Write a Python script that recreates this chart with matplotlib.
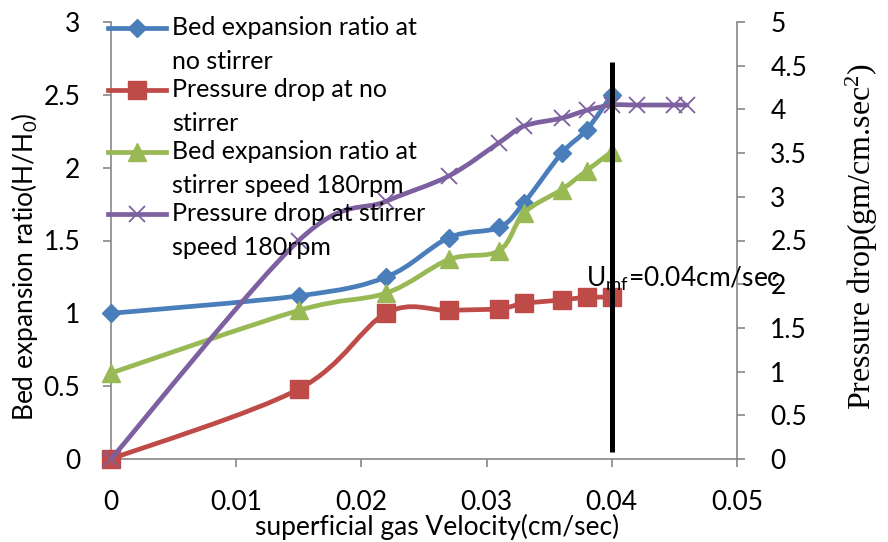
import matplotlib
matplotlib.use('Agg')
import numpy as np
import matplotlib.pyplot as plt
from matplotlib.path import Path
from matplotlib.patches import PathPatch
from matplotlib.lines import Line2D
from matplotlib.legend_handler import HandlerLine2D

# ---- data ----
velocity = [0, 0.015, 0.022, 0.027, 0.031, 0.033, 0.036, 0.038, 0.040]
bed_no_stirrer = [1.0, 1.12, 1.25, 1.52, 1.59, 1.76, 2.10, 2.26, 2.50]
bed_stirrer = [0.59, 1.02, 1.14, 1.37, 1.43, 1.69, 1.85, 1.98, 2.11]
dp_no_stirrer = [0, 0.80, 1.67, 1.70, 1.72, 1.78, 1.82, 1.85, 1.85]
velocity_dp_stirrer = [0, 0.015, 0.022, 0.027, 0.031, 0.033, 0.036, 0.038, 0.040, 0.042, 0.045, 0.046]
dp_stirrer = [0, 2.50, 2.95, 3.24, 3.62, 3.81, 3.90, 3.99, 4.05, 4.05, 4.05, 4.05]

labels = ["Bed expansion ratio at\nno stirrer",
          "Pressure drop at no\nstirrer",
          "Bed expansion ratio at\nstirrer speed 180rpm",
          "Pressure drop at stirrer\nspeed 180rpm"]

x_ticks = [0, 0.01, 0.02, 0.03, 0.04, 0.05]
x_tick_labels = ['0', '0.01', '0.02', '0.03', '0.04', '0.05']
y_ticks = [0, 0.5, 1, 1.5, 2, 2.5, 3]
y_tick_labels = ['0', '0.5', '1', '1.5', '2', '2.5', '3']
y2_ticks = [0, 0.5, 1, 1.5, 2, 2.5, 3, 3.5, 4, 4.5, 5]
y2_tick_labels = ['0', '0.5', '1', '1.5', '2', '2.5', '3', '3.5', '4', '4.5', '5']

umf = 0.04
umf_line_span = (0.08, 4.54)   # in pressure-drop axis units
umf_text_pos = (0.03794, 1.97)

plt.rcParams['font.family'] = ['Lato', 'DejaVu Sans']
FS = 19
LFS = 18

blue = '#4A7EBB'
red = '#BE4B48'
green = '#98B954'
purple = '#7D60A0'
gray = '#868686'


def smooth_path(xs, ys):
    pts = list(zip(xs, ys))
    n = len(pts)
    verts = [pts[0]]
    codes = [Path.MOVETO]
    for i in range(n - 1):
        p0 = pts[i - 1] if i > 0 else pts[i]
        p1 = pts[i]
        p2 = pts[i + 1]
        p3 = pts[i + 2] if i + 2 < n else pts[i + 1]
        c1 = (p1[0] + (p2[0] - p0[0]) / 6, p1[1] + (p2[1] - p0[1]) / 6)
        c2 = (p2[0] - (p3[0] - p1[0]) / 6, p2[1] - (p3[1] - p1[1]) / 6)
        verts += [c1, c2, p2]
        codes += [Path.CURVE4] * 3
    return Path(verts, codes)


class FirstLineHandler(HandlerLine2D):
    """Place the legend key level with the first line of a two-line label."""
    def __init__(self, shift, **kw):
        super().__init__(**kw)
        self.shift = shift

    def create_artists(self, legend, orig_handle, xdescent, ydescent, width,
                       height, fontsize, trans):
        arts = super().create_artists(legend, orig_handle, xdescent, ydescent,
                                      width, height, fontsize, trans)
        for a in arts:
            a.set_ydata(np.asarray(a.get_ydata(), dtype=float) + self.shift)
        return arts


fig = plt.figure(figsize=(8.88, 5.42), dpi=100)
ax = fig.add_axes([111 / 888, 1 - 459 / 542, (737 - 111) / 888, (459 - 22) / 542])
ax2 = ax.twinx()

LW = 3.4


def draw(a, xs, ys, color, marker, ms, mew=1.0, z=3):
    a.add_patch(PathPatch(smooth_path(xs, ys), fill=False, edgecolor=color,
                          lw=LW, zorder=z, capstyle='round', joinstyle='round'))
    a.plot(xs, ys, ls='none', marker=marker, ms=ms, color=color, mec=color,
           mew=mew, zorder=z + 0.1, clip_on=False)
    return Line2D([], [], color=color, lw=LW, marker=marker, ms=ms, mec=color, mew=mew)


h1 = draw(ax, velocity, bed_no_stirrer, blue, 'D', 9.5, z=3)
h3 = draw(ax, velocity, bed_stirrer, green, '^', 13, z=4)
h2 = draw(ax2, velocity, dp_no_stirrer, red, 's', 13, z=3)
h4 = draw(ax2, velocity_dp_stirrer, dp_stirrer, purple, 'x', 12, mew=1.3, z=4)

ax2.plot([umf, umf], list(umf_line_span), color='black', lw=3.6, zorder=6,
         solid_capstyle='butt')
ax2.text(umf_text_pos[0], umf_text_pos[1], r'U$\mathregular{_{mf}}$=0.04cm/sec',
         fontsize=FS, va='baseline', ha='left', zorder=7)

ax.set_xlim(0, 0.05)
ax.set_ylim(0, 3)
ax2.set_ylim(0, 5)

ax.set_xticks(x_ticks)
ax.set_xticklabels(x_tick_labels)
ax.set_yticks(y_ticks)
ax.set_yticklabels(y_tick_labels)
ax2.set_yticks(y2_ticks)
ax2.set_yticklabels(y2_tick_labels)

for s in ['top', 'right']:
    ax.spines[s].set_visible(False)
for s in ['top', 'left', 'bottom']:
    ax2.spines[s].set_visible(False)
for sp in [ax.spines['left'], ax.spines['bottom'], ax2.spines['right']]:
    sp.set_color(gray)
    sp.set_linewidth(1.2)

ax.tick_params(axis='x', direction='out', length=6, width=1.2, color=gray,
               labelsize=FS, pad=16)
ax.tick_params(axis='y', direction='out', length=6, width=1.2, color=gray,
               labelsize=FS, pad=16)
ax2.tick_params(axis='y', direction='out', length=6, width=1.2, color=gray,
                labelsize=FS, pad=18)

ax.set_xlabel('superficial gas Velocity(cm/sec)', fontsize=FS)
ax.xaxis.set_label_coords((437 - 111) / (737 - 111), -(527 - 459) / (459 - 22))
ax.xaxis.label.set_va('center')
ax.set_ylabel(r'Bed expansion ratio(H/H$\mathregular{_0}$)', fontsize=FS)
ax.yaxis.set_label_coords(-(111 - 25) / (737 - 111), (459 - 267) / (459 - 22))
ax.yaxis.label.set_va('center')
ax2.set_ylabel(r'Pressure drop(gm/cm.sec$\mathregular{^2}$)', fontsize=23,
               family='Liberation Serif', rotation=90)
ax2.yaxis.set_label_coords(1 + (862 - 737) / (737 - 111), (459 - 237) / (459 - 22))
ax2.yaxis.label.set_va('center')

handler = FirstLineHandler(shift=12.5)
leg = ax2.legend([h1, h2, h3, h4], labels, loc='upper left',
                 bbox_to_anchor=(108 / 888, 1 - 16 / 542), bbox_transform=fig.transFigure,
                 frameon=False, fontsize=LFS, borderpad=0, borderaxespad=0,
                 handlelength=2.3, handletextpad=0.25, labelspacing=0.22,
                 handler_map={Line2D: handler})
for t in leg.get_texts():
    t.set_linespacing(1.56)
leg.set_zorder(5)

fig.savefig('out.png', dpi=100)
